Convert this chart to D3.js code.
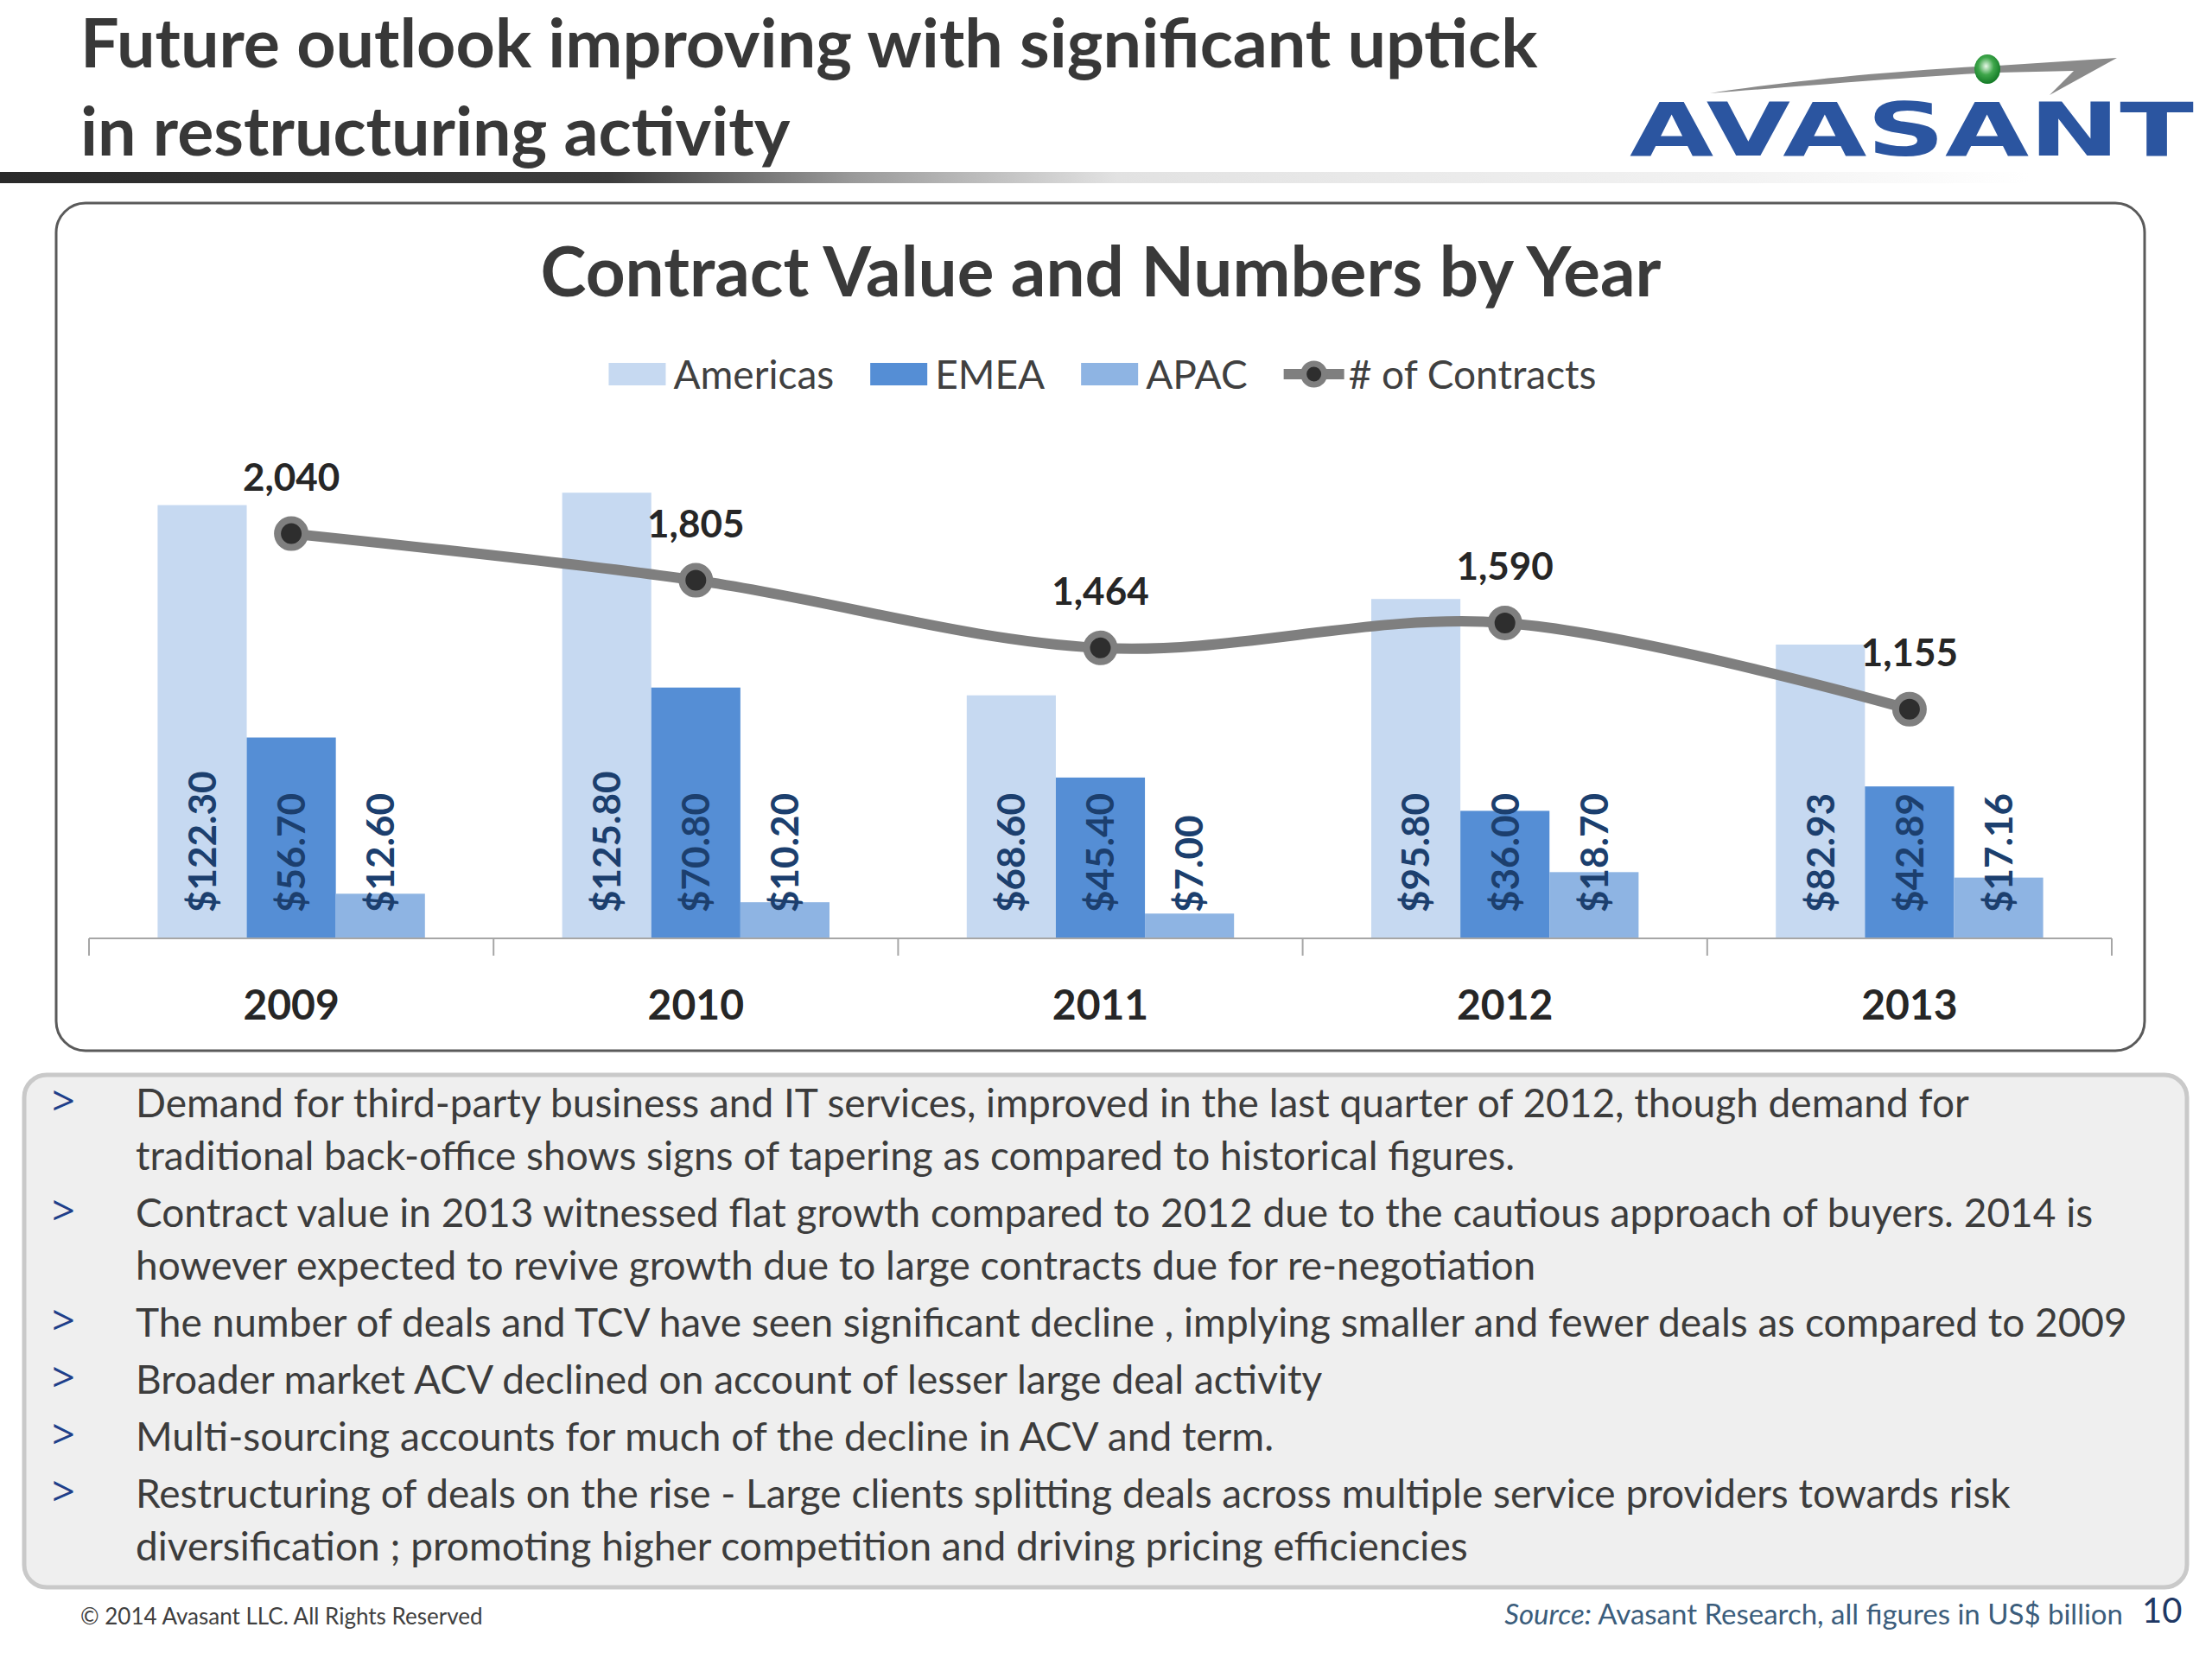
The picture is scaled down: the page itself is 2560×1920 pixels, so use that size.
<!DOCTYPE html>
<html>
<head>
<meta charset="utf-8">
<script src="https://cdn.jsdelivr.net/npm/d3@7"></script>
<style>
  body { margin: 0; background: #fff; }
  svg text { font-family: Lato, "Open Sans", sans-serif; }
</style>
</head>
<body>
<div class="slide"></div>
<script>
var W = 2560, H = 1920;

// data
var years = ["2009", "2010", "2011", "2012", "2013"];
var regions = ["Americas", "EMEA", "APAC"];
var americas = [122.30, 125.80, 68.60, 95.80, 82.93];
var emea = [56.70, 70.80, 45.40, 36.00, 42.89];
var apac = [12.60, 10.20, 7.00, 18.70, 17.16];
var contracts = [2040, 1805, 1464, 1590, 1155];
var valueTicks = [0, 140];      // primary axis (US$ bn), hidden
var countTicks = [0, 2500];     // secondary axis (# contracts), hidden

var bullets = [
  ["Demand for third-party business and IT services, improved in the last quarter of 2012, though demand for",
   "traditional back-office shows signs of tapering as compared to historical figures."],
  ["Contract value in 2013 witnessed flat growth compared to 2012 due to the cautious approach of buyers. 2014 is",
   "however expected to revive growth due to large contracts due for re-negotiation"],
  ["The number of deals and TCV have seen significant decline , implying smaller and fewer deals as compared to 2009"],
  ["Broader market ACV declined on account of lesser large deal activity"],
  ["Multi-sourcing accounts for much of the decline in ACV and term."],
  ["Restructuring of deals on the rise - Large clients splitting deals across multiple service providers towards risk",
   "diversification ; promoting higher  competition and driving pricing efficiencies"]
];

var colors = { Americas: "#c6d9f1", EMEA: "#558ed5", APAC: "#8eb4e3" };
var seriesVals = { Americas: americas, EMEA: emea, APAC: apac };

var svg = d3.select(".slide").append("svg")
    .attr("width", W).attr("height", H);

var defs = svg.append("defs");
var grad = defs.append("linearGradient").attr("id", "rule-grad")
    .attr("x1", 0).attr("x2", 1).attr("y1", 0).attr("y2", 0);
[[0, "#2a2a2a"], [0.3, "#3c3c3c"], [0.42, "#9a9a9a"], [0.55, "#e2e2e2"], [0.85, "#f2f2f2"], [1, "#ffffff"]]
  .forEach(function(s){ grad.append("stop").attr("offset", s[0]).attr("stop-color", s[1]); });
var dot = defs.append("radialGradient").attr("id", "dot-grad").attr("cx", 0.45).attr("cy", 0.4).attr("r", 0.6);
dot.append("stop").attr("offset", 0).attr("stop-color", "#e8f8e8");
dot.append("stop").attr("offset", 0.5).attr("stop-color", "#3ea64a");
dot.append("stop").attr("offset", 1).attr("stop-color", "#137a26");

// ---- header
svg.append("text").attr("x", 93).attr("y", 78)
    .style("font-size", "79px").style("font-weight", 700).attr("fill", "#383838")
    .text("Future outlook improving with significant uptick");
svg.append("text").attr("x", 93).attr("y", 180)
    .style("font-size", "79px").style("font-weight", 700).attr("fill", "#383838")
    .text("in restructuring activity");
svg.append("rect").attr("x", 0).attr("y", 199).attr("width", 2350).attr("height", 13)
    .attr("fill", "url(#rule-grad)");

// logo
var logo = svg.append("g");
logo.append("path")
    .attr("d", "M1979,108 C2080,92 2200,82 2288,77 L2288,85 C2200,90 2080,100 1979,108 Z")
    .attr("fill", "#8a8a8a");
logo.append("path")
    .attr("d", "M2312,76 L2450,67 L2372,110 L2400,82 L2312,84 Z")
    .attr("fill", "#8a8a8a");
logo.append("ellipse").attr("cx", 2300).attr("cy", 80).attr("rx", 15).attr("ry", 17)
    .attr("fill", "url(#dot-grad)");
logo.append("text").attr("x", 1886).attr("y", 180)
    .attr("textLength", 653).attr("lengthAdjust", "spacingAndGlyphs")
    .style("font-family", "'DejaVu Sans', sans-serif")
    .style("font-size", "86px").style("font-weight", 700).attr("fill", "#2b55a0")
    .text("AVASANT");

// ---- chart panel
svg.append("rect").attr("x", 65).attr("y", 235).attr("width", 2417).attr("height", 981)
    .attr("rx", 34).attr("fill", "#fff").attr("stroke", "#5a5a5a").attr("stroke-width", 3);

svg.append("text").attr("x", 1274).attr("y", 343).attr("text-anchor", "middle")
    .style("font-size", "80px").style("font-weight", 700).attr("fill", "#3a3a3a")
    .text("Contract Value and Numbers by Year");

var x0 = d3.scaleBand().domain(years).range([103, 2444]).paddingInner(0).paddingOuter(0);
var x1 = d3.scaleBand().domain(regions).range([0, x0.bandwidth()]).paddingInner(0).paddingOuter(0.77);
var y = d3.scaleLinear().domain(valueTicks).range([1086, 512]);
var y2 = d3.scaleLinear().domain(countTicks).range([1086, 512]);

var plot = svg.append("g");

// bars
var groups = plot.selectAll(".year").data(years).enter().append("g")
    .attr("class", "year")
    .attr("transform", function(d){ return "translate(" + x0(d) + ",0)"; });

groups.selectAll("rect")
    .data(function(d, i){ return regions.map(function(r){ return { region: r, value: seriesVals[r][i] }; }); })
    .enter().append("rect")
    .attr("x", function(d){ return x1(d.region); })
    .attr("y", function(d){ return y(d.value); })
    .attr("width", x1.bandwidth())
    .attr("height", function(d){ return y(0) - y(d.value); })
    .attr("fill", function(d){ return colors[d.region]; });

groups.selectAll(".barlabel")
    .data(function(d, i){ return regions.map(function(r){ return { region: r, value: seriesVals[r][i] }; }); })
    .enter().append("text")
    .attr("class", "barlabel")
    .attr("transform", function(d){
        return "translate(" + (x1(d.region) + x1.bandwidth() / 2) + "," + (y(0) - 30) + ") rotate(-90)";
    })
    .attr("dy", "0.36em")
    .style("font-size", "44px").style("font-weight", 700).attr("fill", "#1c3f6e")
    .text(function(d){ return "$" + d.value.toFixed(2); });

// category axis
var axis = d3.axisBottom(x0).tickSize(0).tickPadding(60);
var ax = plot.append("g").attr("transform", "translate(0," + y(0) + ")").call(axis);
ax.select(".domain").remove();
ax.selectAll("text")
    .style("font-family", "Lato, sans-serif")
    .style("font-size", "48px").style("font-weight", 700).attr("fill", "#262626");

plot.append("line").attr("x1", x0.range()[0]).attr("x2", x0.range()[1])
    .attr("y1", y(0)).attr("y2", y(0)).attr("stroke", "#a6a6a6").attr("stroke-width", 2);
plot.selectAll(".bound").data(years.concat(["end"])).enter().append("line")
    .attr("class", "bound")
    .attr("x1", function(d){ return d === "end" ? x0.range()[1] : x0(d); })
    .attr("x2", function(d){ return d === "end" ? x0.range()[1] : x0(d); })
    .attr("y1", y(0)).attr("y2", y(0) + 20)
    .attr("stroke", "#a6a6a6").attr("stroke-width", 2);

// contracts line
var pts = years.map(function(d, i){ return [x0(d) + x0.bandwidth() / 2, y2(contracts[i])]; });
plot.append("path")
    .attr("d", d3.line().curve(d3.curveCardinal.tension(0))(pts))
    .attr("fill", "none").attr("stroke", "#7f7f7f").attr("stroke-width", 12);
plot.selectAll(".marker").data(pts).enter().append("circle")
    .attr("class", "marker")
    .attr("cx", function(d){ return d[0]; }).attr("cy", function(d){ return d[1]; })
    .attr("r", 16).attr("fill", "#2e2e2e").attr("stroke", "#7f7f7f").attr("stroke-width", 8);
plot.selectAll(".count").data(contracts).enter().append("text")
    .attr("class", "count")
    .attr("x", function(d, i){ return pts[i][0]; })
    .attr("y", function(d, i){ return pts[i][1] - 50; })
    .attr("text-anchor", "middle")
    .style("font-size", "44px").style("font-weight", 700).attr("fill", "#262626")
    .text(function(d){ return d3.format(",")(d); });

// legend
var legend = svg.append("g");
var lx = 0, gap = 42, items = regions.concat(["# of Contracts"]);
var legItems = legend.selectAll("g").data(items).enter().append("g");
legItems.each(function(d){
    var g = d3.select(this);
    if (d === "# of Contracts") {
        g.append("line").attr("x1", 0).attr("x2", 70).attr("y1", 0).attr("y2", 0)
            .attr("stroke", "#7f7f7f").attr("stroke-width", 12);
        g.append("circle").attr("cx", 35).attr("cy", 0).attr("r", 12)
            .attr("fill", "#2e2e2e").attr("stroke", "#7f7f7f").attr("stroke-width", 7);
    } else {
        g.append("rect").attr("x", 0).attr("y", -13).attr("width", 66).attr("height", 26)
            .attr("fill", colors[d]);
    }
    var off = 75;
    var t = g.append("text").attr("x", off).attr("y", 17)
        .style("font-size", "46px").attr("fill", "#404040").text(d);
    var w = off + t.node().getComputedTextLength();
    g.attr("transform", "translate(" + lx + ",0)");
    lx += w + gap;
});
legend.attr("transform", "translate(" + (1276 - (lx - gap) / 2) + ",433)");

// ---- commentary box
svg.append("rect").attr("x", 28).attr("y", 1244).attr("width", 2503).attr("height", 593)
    .attr("rx", 26).attr("fill", "#efefef").attr("stroke", "#c9c9c9").attr("stroke-width", 5);

var lineY = 1293;
bullets.forEach(function(lines){
    svg.append("text").attr("x", 60).attr("y", lineY - 2)
        .style("font-family", "'Open Sans', sans-serif")
        .style("font-size", "47px").attr("fill", "#1f3f8a").text(">");
    lines.forEach(function(l, j){
        svg.append("text").attr("x", 157).attr("y", lineY)
            .style("font-size", "46px").attr("fill", "#3c3c3c").text(l);
        lineY += (j < lines.length - 1) ? 61 : 0;
    });
    lineY += 66;
});

// ---- footer
svg.append("text").attr("x", 93).attr("y", 1880)
    .style("font-size", "26px").attr("fill", "#404040")
    .text("© 2014 Avasant LLC. All Rights Reserved");
var src = svg.append("text").attr("x", 2457).attr("y", 1880).attr("text-anchor", "end")
    .style("font-size", "33px").attr("fill", "#3b5d7c");
src.append("tspan").style("font-style", "italic").text("Source:");
src.append("tspan").text(" Avasant Research, all figures in US$ billion");
svg.append("text").attr("x", 2479).attr("y", 1878)
    .style("font-size", "40px").attr("fill", "#1f3864").text("10");
</script>
</body>
</html>
